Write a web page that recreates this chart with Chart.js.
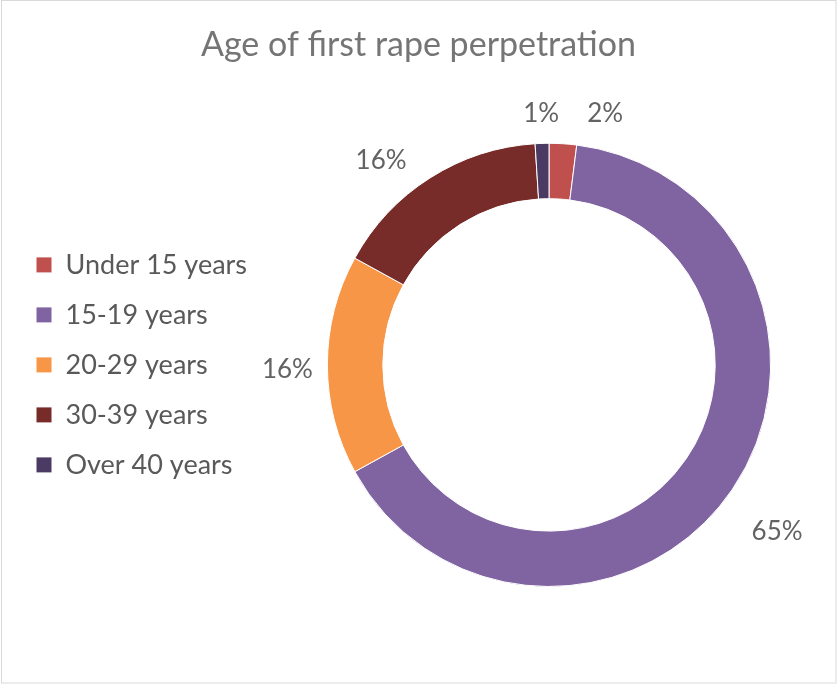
<!DOCTYPE html>
<html>
<head>
<meta charset="utf-8">
<script src="https://cdn.jsdelivr.net/npm/chart.js@4"></script>
<style>
  body { margin: 0; background: #fff; }
  #wrap { width: 837px; height: 684px; }
</style>
</head>
<body>
<div id="wrap"><canvas id="myChart" width="837" height="684"></canvas></div>
<script>
let labels = ['Under 15 years', '15-19 years', '20-29 years', '30-39 years', 'Over 40 years'];
let shares = [2, 65, 16, 16, 1];
let colorHex = ['#C0504D', '#8064A2', '#F79646', '#772C2A', '#4B3A63'];

// where each percentage sits: angle shift (deg) and distance past the ring (px)
let labelShift = [9, 2, -1, -7, 0];
let labelGap = [36, 61, 40, 43, 30];

const fontFamily = 'Lato, "Open Sans", sans-serif';

// white page with a thin grey frame
const frame = {
  id: 'frame',
  beforeDraw(chart) {
    const c = chart.ctx;
    c.save();
    c.fillStyle = '#fff';
    c.fillRect(0, 0, chart.width, chart.height);
    c.strokeStyle = '#D9D9D9';
    c.lineWidth = 1;
    c.strokeRect(1.5, 0.5, chart.width - 2.5, chart.height - 1.5);
    c.restore();
  }
};

// percentage labels outside the ring
const outsideLabels = {
  id: 'outsideLabels',
  afterDatasetsDraw(chart) {
    const c = chart.ctx;
    const arcs = chart.getDatasetMeta(0).data;
    c.save();
    c.font = '26px ' + fontFamily;
    c.fillStyle = '#636363';
    c.textAlign = 'center';
    c.textBaseline = 'middle';
    arcs.forEach((arc, i) => {
      const p = arc.getProps(['x', 'y', 'startAngle', 'endAngle', 'outerRadius'], true);
      const mid = (p.startAngle + p.endAngle) / 2 + labelShift[i] * Math.PI / 180;
      const r = p.outerRadius + labelGap[i];
      c.fillText(shares[i] + '%', p.x + r * Math.cos(mid), p.y + r * Math.sin(mid));
    });
    c.restore();
  }
};

// fixed legend column width so the ring centre lands right of the legend
const legendWidth = {
  id: 'legendWidth',
  beforeInit(chart) {
    const legend = chart.legend;
    if (!legend) return;
    const fit = legend.fit;
    legend.fit = function () {
      fit.call(this);
      this.width = 261;
    };
  }
};

let ctx = document.getElementById('myChart').getContext('2d');

let myChart = new Chart(ctx, {
  type: 'doughnut',
  data: {
    labels: labels,
    datasets: [{
      data: shares,
      backgroundColor: colorHex,
      borderColor: '#fff',
      borderWidth: 1,
      hoverOffset: 0
    }]
  },
  options: {
    responsive: false,
    animation: false,
    cutout: '75%',
    layout: {
      padding: { left: 13, right: 13, top: 0, bottom: 97 }
    },
    plugins: {
      title: {
        display: true,
        text: 'Age of first rape perpetration',
        color: '#757575',
        font: { family: fontFamily, size: 34, weight: 'normal' },
        padding: { top: 25, bottom: 77 }
      },
      legend: {
        position: 'left',
        fullSize: false,
        labels: {
          boxWidth: 16,
          boxHeight: 16,
          padding: 23,
          color: '#595959',
          font: { family: fontFamily, size: 27 }
        }
      },
      tooltip: { enabled: false }
    }
  },
  plugins: [frame, outsideLabels, legendWidth]
});
</script>
</body>
</html>
